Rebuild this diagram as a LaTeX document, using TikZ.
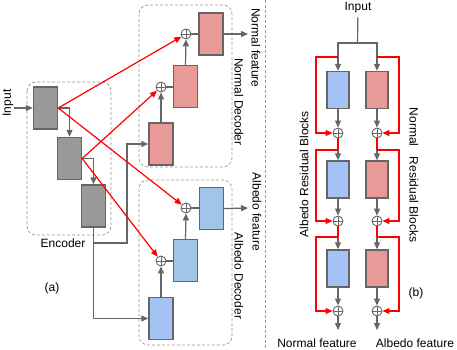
\documentclass[tikz,border=0pt]{standalone}
\usepackage{fontspec}
\usepackage{xcolor}
\usetikzlibrary{arrows.meta}
\setmainfont{Liberation Sans}
\definecolor{linegray}{HTML}{666666}
\definecolor{encgray}{HTML}{999999}
\definecolor{boxgray}{HTML}{999999}
\definecolor{normalpink}{HTML}{EA9999}
\definecolor{albedoblue}{HTML}{9FC5E8}
\definecolor{albedobluetwo}{HTML}{A4C2F4}
\definecolor{skipred}{HTML}{FF0000}

\begin{document}
\begin{tikzpicture}[
  x=1pt,
  y=-1pt,
  every node/.style={font=\fontsize{12}{14}\selectfont, black},
  block/.style={draw=linegray, line width=1.4pt, inner sep=0pt,
                minimum width=24pt, minimum height=42pt},
  encblock/.style={block, fill=encgray},
  nblock/.style={block, fill=normalpink},
  ablock/.style={block, fill=albedoblue},
  resblock/.style={block, minimum width=22pt, minimum height=37pt},
  addnode/.style={circle, draw=linegray, line width=0.9pt, inner sep=0pt,
                  minimum size=10pt,
                  path picture={\draw[linegray, line width=0.9pt]
                    (path picture bounding box.north) -- (path picture bounding box.south)
                    (path picture bounding box.west) -- (path picture bounding box.east);}},
  link/.style={linegray, line width=1.2pt},
  flow/.style={link, -{Triangle[length=7pt, width=6pt]}},
  skipline/.style={skipred, line width=1.2pt},
  skip/.style={skipline, -{Triangle[length=7pt, width=6pt]}},
  groupbox/.style={boxgray, line width=0.7pt, dash pattern=on 3pt off 2pt,
                   rounded corners=9pt}
]
  \useasboundingbox (0,0) rectangle (457,350);

  %% ---- (a) 編碼器 ----------------------------------------------------------
  \draw[groupbox] (27,82) rectangle (111,235);
  \node[encblock] (enc1) at (45.5,108)   {};
  \node[encblock] (enc2) at (69.5,158.5) {};
  \node[encblock] (enc3) at (93.5,206)   {};
  \node (enclabel) at (63,243) {Encoder};
  \node (alabel) at (52,288) {(a)};

  \node[rotate=90] (inputa) at (8,103) {Input};
  \coordinate (inputend) at (14,108);
  \draw[flow] (inputend) -- (enc1.west);
  \draw[flow] (enc1.east) -| (enc2.north);
  \draw[flow] (enc2.east) -| (enc3.north);

  %% ---- (a) 兩個解碼器 ------------------------------------------------------
  \draw[groupbox] (139,5) rectangle (232,167);
  \draw[groupbox] (139,180) rectangle (232,345);

  \node[nblock] (dn1) at (161,144)   {};
  \node[nblock] (dn2) at (185.5,86.5) {};
  \node[nblock] (dn3) at (211,34)    {};
  \node[addnode] (addn1) at (161,87) {};
  \node[addnode] (addn2) at (186,34) {};

  \node[ablock, fill=albedobluetwo] (da1) at (161,318.5) {};
  \node[ablock] (da2) at (185.5,260.5) {};
  \node[ablock] (da3) at (211.5,208.5) {};
  \node[addnode] (adda1) at (161,261) {};
  \node[addnode] (adda2) at (186,208) {};

  \coordinate (turn) at (127,243);
  \draw[flow] (enc3.south) |- (turn) |- (dn1.west);
  \draw[flow] (enc3.south) |- (da1.west);

  \draw[flow] (dn1.north) -- (addn1.south);
  \draw[link] (addn1.east) -- (addn1.east -| dn2.west);
  \draw[flow] (dn2.north) -- (addn2.south);
  \draw[link] (addn2.east) -- (addn2.east -| dn3.west);

  \draw[flow] (da1.north) -- (adda1.south);
  \draw[link] (adda1.east) -- (adda1.east -| da2.west);
  \draw[flow] (da2.north) -- (adda2.south);
  \draw[link] (adda2.east) -- (adda2.east -| da3.west);

  \coordinate (nfeat) at (248,34);
  \coordinate (afeat) at (248,208);
  \draw[flow] (dn3.east) -- (nfeat);
  \draw[flow] (da3.east) -- (afeat);

  \node[rotate=-90] (nfeattext) at (256,48)  {Normal feature};
  \node[rotate=-90] (afeattext) at (257,212) {Albedo feature};
  \node[rotate=-90] (ndectext)  at (239,102) {Normal Decoder};
  \node[rotate=-90] (adectext)  at (239,276) {Albedo Decoder};

  %% 紅色跳接
  \draw[skip] (enc1.east) -- (addn2);
  \draw[skip] (enc1.east) -- (adda2);
  \draw[skip] (enc2.east) -- (addn1);
  \draw[skip] (enc2.east) -- (adda1);

  %% ---- 分隔線 --------------------------------------------------------------
  \draw[groupbox] (265.5,0) -- (265.5,350);

  %% ---- (b) 殘差塊 ----------------------------------------------------------
  \node (inputb) at (358,8) {Input};
  \coordinate (split) at (357.5,43);

  \foreach \i/\y in {1/90,2/179.5,3/268.5} {
    \node[resblock, fill=albedobluetwo] (rb\i) at (338,\y) {};
    \node[resblock, fill=normalpink] (rn\i) at (377,\y) {};
  }
  \foreach \i/\y in {1/133,2/221,3/311} {
    \node[addnode] (addb\i) at (338,\y) {};
    \node[addnode] (addr\i) at (377,\y) {};
  }
  \foreach \i/\y in {1/57,2/150,3/237} {
    \coordinate (tapb\i) at (338,\y);
    \coordinate (tapr\i) at (377,\y);
  }

  \draw[link] (inputb) -- (split);
  \draw[flow] (split) -| (rb1.north);
  \draw[flow] (split) -| (rn1.north);

  \foreach \i/\j in {2/1,3/2} {
    \draw[skipline] (addb\j) -- (tapb\i);
    \draw[skipline] (addr\j) -- (tapr\i);
    \draw[flow] (tapb\i) -- (rb\i.north);
    \draw[flow] (tapr\i) -- (rn\i.north);
  }
  \foreach \i in {1,2,3} {
    \draw[flow] (rb\i.south) -- (addb\i);
    \draw[flow] (rn\i.south) -- (addr\i);
    \draw[skip] (tapb\i) -- ++(-22,0) |- (addb\i);
    \draw[skip] (tapr\i) -- ++(22,0) |- (addr\i);
  }

  \coordinate (outb) at (338,330);
  \coordinate (outr) at (377,330);
  \draw[flow] (addb3) -- (outb);
  \draw[flow] (addr3) -- (outr);

  \node (nfb) at (317,343) {Normal feature};
  \node (afb) at (415,343) {Albedo feature};
  \node[rotate=90]  (albres) at (304,174) {Albedo Residual Blocks};
  \node[rotate=-90] (norres) at (414,175) {Normal\hspace{7pt} Residual Blocks};
  \node (blabel) at (416,293) {(b)};
\end{tikzpicture}
\end{document}
